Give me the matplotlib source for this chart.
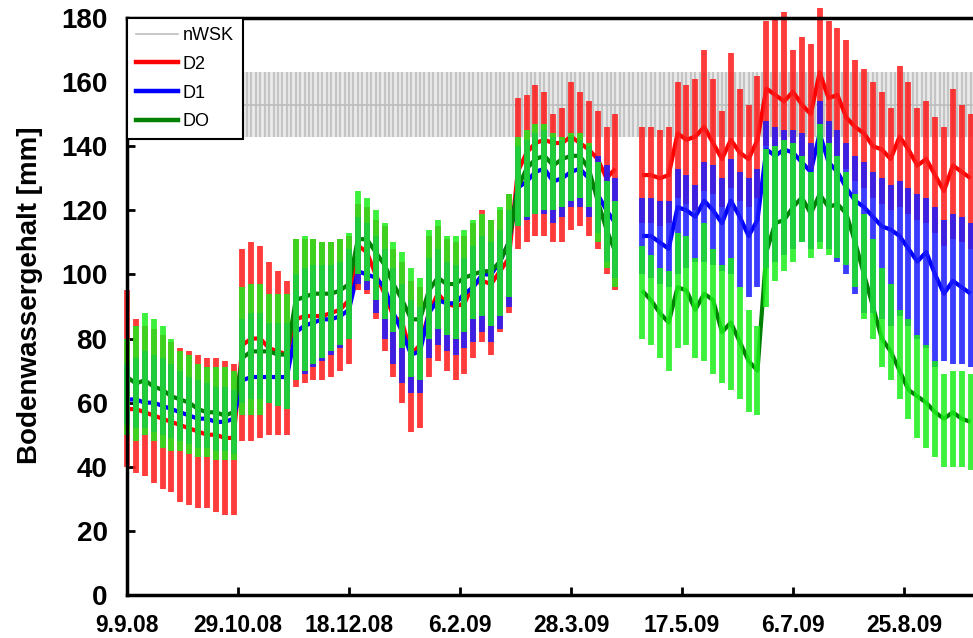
import numpy as np
import matplotlib
matplotlib.use('Agg')
import matplotlib.pyplot as plt
from matplotlib.lines import Line2D

nan = np.nan

# day offsets from 9.9.2008 (sampling every 4 days)
days = list(range(0, 381, 4))

tick_days = [0, 50, 100, 150, 200, 250, 300, 350]
tick_labels = ["9.9.08", "29.10.08", "18.12.08", "6.2.09", "28.3.09", "17.5.09", "6.7.09", "25.8.09"]

# nWSK band (constant)
nwsk_days = list(range(0, 384, 2))
nwsk_mean = 153
nwsk_lo = 143
nwsk_hi = 163

d2_hi = [95, 86, 84, 83, 81, 79, 77, 76, 75, 74, 74, 73, 72, 108, 110, 109,
         104, 101, 98, 111, 111, 111, 110, 110, 111, 112, 122, 121, 117, 115, 108, 104,
         98, 96, 112, 115, 111, 110, 112, 116, 120, 117, 120, 125, 155, 156, 159, 157,
         150, 152, 160, 157, 154, 151, 146, 150, nan, nan, 146, 146, 145, 146,
         160, 159, 161, 170, 161, 151, 169, 158, 153, 162, 179, 180, 182, 170,
         174, 172, 183, 179, 177, 173, 167, 164, 160, 157, 152, 165, 160, 152,
         154, 149, 146, 158, 153, 150]
d2_lo = [40, 38, 37, 35, 33, 32, 29, 28, 27, 27, 26, 25, 25, 48, 48, 49,
         50, 50, 50, 65, 66, 67, 67, 68, 70, 72, 95, 94, 86, 76, 68, 60,
         51, 52, 68, 73, 70, 67, 69, 74, 79, 75, 82, 88, 108, 110, 112, 112,
         110, 110, 114, 115, 112, 108, 100, 95, nan, nan, 116, 116, 115, 116,
         124, 122, 120, 126, 125, 121, 127, 123, 121, 124, 140, 138, 137, 137,
         136, 133, 145, 140, 137, 133, 129, 127, 124, 122, 120, 121, 119, 117,
         116, 113, 109, 111, 110, 108]
d2_mean = [58, 58, 57, 56, 55, 54, 53, 52, 51, 50, 50, 49, 49, 78, 80, 80,
           77, 76, 75, 86, 87, 87, 87, 88, 89, 92, 109, 107, 100, 94, 87, 85,
           75, 78, 88, 94, 91, 90, 91, 97, 98, 97, 101, 105, 132, 138, 141, 142,
           141, 141, 143, 141, 139, 136, 130, 133, nan, nan, 131, 131, 130, 131,
           144, 142, 143, 146, 141, 136, 142, 138, 136, 142, 158, 156, 154, 157,
           153, 150, 163, 155, 156, 149, 146, 144, 140, 139, 136, 143, 139, 134,
           136, 131, 126, 134, 132, 130]

d1_hi = [72, 74, 76, 75, 74, 72, 70, 68, 67, 66, 65, 65, 64, 86, 88, 88,
         85, 85, 85, 100, 102, 103, 103, 103, 104, 108, 118, 116, 112, 108, 102, 97,
         92, 90, 105, 108, 104, 103, 105, 109, 112, 110, 114, 120, 140, 142, 144, 145,
         143, 142, 143, 142, 140, 137, 134, 130, nan, nan, 124, 124, 123, 123,
         133, 131, 128, 135, 134, 130, 136, 132, 130, 133, 148, 146, 145, 145,
         144, 141, 154, 148, 145, 141, 137, 135, 132, 130, 128, 129, 127, 125,
         124, 121, 117, 119, 118, 116]
d1_lo = [53, 52, 52, 51, 50, 49, 48, 47, 46, 46, 45, 45, 44, 60, 61, 61,
         60, 59, 58, 67, 69, 71, 73, 75, 77, 80, 97, 95, 88, 80, 72, 66,
         63, 63, 74, 78, 76, 75, 77, 79, 82, 79, 83, 90, 115, 117, 119, 119,
         116, 118, 121, 121, 118, 113, 104, 99, nan, nan, 100, 99, 97, 96,
         100, 102, 104, 104, 103, 101, 100, 96, 93, 96, 102, 104, 106, 108,
         110, 108, 110, 108, 104, 100, 94, 88, 88, 86, 84, 87, 84, 80,
         77, 71, 73, 72, 72, 71]
d1_mean = [61, 61, 60, 60, 59, 58, 57, 56, 55, 55, 54, 54, 55, 67, 68, 68,
           68, 68, 68, 82, 84, 85, 86, 86, 87, 89, 101, 100, 99, 96, 88, 82,
           75, 76, 88, 92, 91, 91, 94, 96, 100, 100, 104, 110, 127, 129, 132, 133,
           129, 130, 132, 133, 130, 125, 120, 116, nan, nan, 112, 112, 110, 108,
           121, 120, 118, 123, 120, 116, 123, 118, 112, 117, 139, 137, 139, 138,
           135, 132, 144, 135, 132, 127, 123, 121, 118, 115, 114, 112, 108, 104,
           107, 100, 94, 98, 96, 94]

do_hi = [80, 84, 88, 86, 84, 80, 76, 75, 72, 71, 71, 71, 70, 96, 97, 97,
         94, 94, 94, 111, 112, 111, 110, 110, 111, 113, 126, 124, 120, 116, 110, 107,
         102, 99, 114, 117, 112, 112, 114, 117, 119, 117, 121, 125, 143, 145, 147, 147,
         144, 143, 144, 144, 141, 135, 129, 123, nan, nan, 109, 106, 102, 101,
         113, 112, 105, 116, 108, 103, 105, 96, 89, 84, 139, 140, 142, 141,
         137, 132, 147, 141, 137, 132, 125, 119, 111, 102, 97, 89, 86, 81,
         78, 73, 69, 70, 70, 69]
do_lo = [50, 48, 50, 48, 46, 45, 45, 44, 43, 43, 42, 42, 42, 56, 56, 56,
         60, 59, 58, 67, 70, 72, 74, 76, 78, 80, 100, 98, 92, 86, 82, 77,
         68, 67, 80, 83, 81, 80, 82, 86, 87, 84, 87, 93, 115, 118, 119, 120,
         120, 121, 123, 124, 121, 110, 102, 96, nan, nan, 80, 78, 74, 70,
         77, 78, 74, 73, 69, 66, 64, 61, 57, 56, 90, 98, 101, 104,
         110, 105, 108, 106, 105, 103, 96, 86, 80, 71, 67, 61, 55, 49,
         46, 43, 40, 40, 40, 39]
do_mean = [68, 66, 67, 65, 64, 62, 61, 60, 58, 57, 57, 56, 57, 74, 76, 76,
           76, 75, 75, 92, 93, 94, 94, 94, 95, 97, 111, 111, 107, 103, 97, 92,
           86, 86, 95, 99, 97, 97, 99, 100, 101, 101, 104, 110, 127, 133, 136, 137,
           134, 136, 137, 137, 133, 123, 114, 107, nan, nan, 95, 92, 88, 85,
           96, 95, 89, 94, 92, 82, 85, 79, 73, 70, 107, 116, 117, 121,
           124, 119, 125, 121, 122, 119, 110, 100, 90, 80, 76, 70, 64, 62,
           60, 57, 55, 57, 55, 54]

W, H = 973, 638
fig = plt.figure(figsize=(W / 100, H / 100), dpi=100)
x0_px, x_per_day = 127, 2.22
xmax = 384
ax_left = x0_px / W
ax_width = (x_per_day * xmax) / W
ax_bottom = (H - 595) / H
ax_height = (595 - 18) / H
ax = fig.add_axes([ax_left, ax_bottom, ax_width, ax_height])

# nWSK band
ax.fill_between([0, xmax], nwsk_lo, nwsk_hi, color='#ebebeb', lw=0, zorder=1)
ax.vlines(nwsk_days, nwsk_lo, nwsk_hi, colors='#c4c4c4', linewidth=1.6, zorder=1.1)
ax.plot([0, xmax], [nwsk_mean, nwsk_mean], color='#bdbdbd', lw=1.2, zorder=1.2)

# mean lines (beneath bars)
ax.plot(days, d2_mean, color='#ff0000', lw=3.0, zorder=2, solid_capstyle='butt')
ax.plot(days, d1_mean, color='#0000ff', lw=3.0, zorder=2.1, solid_capstyle='butt')
ax.plot(days, do_mean, color='#008000', lw=3.0, zorder=2.2, solid_capstyle='butt')

# min/max bars
bw = 4.2
ax.vlines(days, d2_lo, d2_hi, colors='#ff1a1a', linewidth=bw, alpha=0.85, zorder=3, clip_on=False)
ax.vlines(days, d1_lo, d1_hi, colors='#1a1aff', linewidth=bw, alpha=0.85, zorder=3.1, clip_on=False)
ax.vlines(days, do_lo, do_hi, colors='#1aee1a', linewidth=bw, alpha=0.85, zorder=3.2, clip_on=False)

ax.set_xlim(0, xmax)
ax.set_ylim(0, 180)
ax.set_yticks(range(0, 181, 20))
ax.set_xticks(tick_days)
ax.set_xticklabels(tick_labels)

for s in ['left', 'bottom', 'top', 'right']:
    ax.spines[s].set_linewidth(2.5)
    ax.spines[s].set_color('black')
    ax.spines[s].set_zorder(5)

ax.tick_params(axis='both', direction='in', length=6, width=2, colors='black')
ax.tick_params(axis='y', pad=14)
ax.tick_params(axis='x', pad=14)
for lab in ax.get_yticklabels():
    lab.set_fontfamily(['Liberation Sans', 'DejaVu Sans'])
    lab.set_fontweight('bold')
    lab.set_fontsize(20)
for lab in ax.get_xticklabels():
    lab.set_fontfamily(['Liberation Sans', 'DejaVu Sans'])
    lab.set_fontweight('bold')
    lab.set_fontsize(16.5)

fig.text(30 / W, (H - 295) / H, 'Bodenwassergehalt [mm]', rotation=90, ha='center', va='center',
         fontsize=20, fontweight='bold', family=['Liberation Sans', 'DejaVu Sans'])

handles = [Line2D([], [], color='#bdbdbd', lw=1.2),
           Line2D([], [], color='#ff0000', lw=3.2),
           Line2D([], [], color='#0000ff', lw=3.2),
           Line2D([], [], color='#008000', lw=3.2)]
leg = ax.legend(handles, ['nWSK', 'D2', 'D1', 'DO'], loc='upper left', bbox_to_anchor=(0, 1),
                borderaxespad=0, fancybox=False, framealpha=1, edgecolor='black',
                prop={'family': ['Liberation Sans', 'DejaVu Sans'], 'size': 13},
                handlelength=2.3, handletextpad=0.3, labelspacing=0.65, borderpad=0.5)
leg.get_frame().set_linewidth(1.5)
leg.set_zorder(6)

fig.savefig('out.png', dpi=100)
